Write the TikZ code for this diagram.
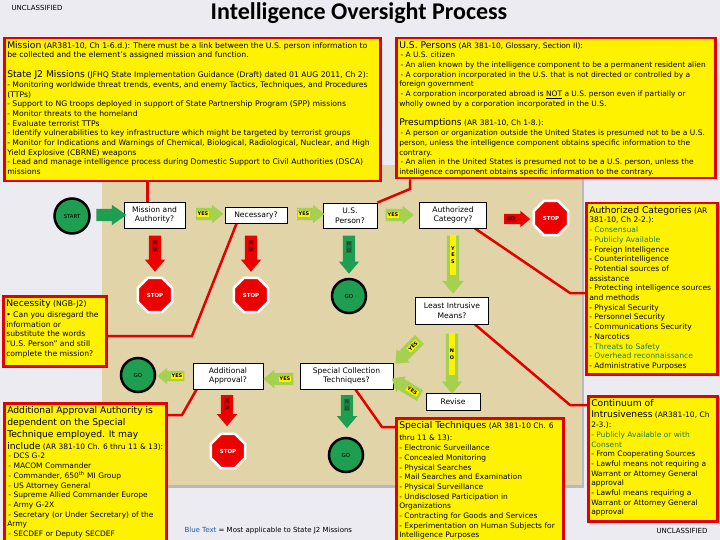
\documentclass[tikz,border=0pt]{standalone}
\usepackage{fontspec}
\setmainfont{DejaVu Sans}
\newfontfamily\titlefont{Carlito}
\usetikzlibrary{shapes.geometric,shapes.arrows,positioning,backgrounds}

\definecolor{bggray}{RGB}{235,235,241}
\definecolor{sand}{RGB}{224,212,168}
\definecolor{boxred}{RGB}{226,0,0}
\definecolor{stopred}{RGB}{236,0,0}
\definecolor{gogreen}{RGB}{30,158,80}
\definecolor{yesgreen}{RGB}{165,208,80}
\definecolor{bluetext}{RGB}{25,120,80}
\definecolor{bluenote}{RGB}{30,90,160}

\newcommand{\boxtext}[3]{\parbox[t][#1][t]{#2}{\raggedright\lineskiplimit=-4pt #3}}
\newcommand{\hd}[1]{{\fontsize{9.2}{9.7}\selectfont #1}}
\newcommand{\bt}[1]{\textcolor{bluetext}{#1}}

\tikzset{
  infobox/.style={draw=boxred, line width=2.5pt, fill=yellow, inner sep=3pt, anchor=north west,
    font=\fontsize{7.5}{9.7}\selectfont},
  askbox/.style={draw=black, line width=0.8pt, fill=white, align=center, inner sep=0pt,
    font=\fontsize{7.6}{9.6}\selectfont},
  stopsign/.style={regular polygon, regular polygon sides=8, fill=stopred, draw=white, line width=2.5pt,
    minimum size=37pt, inner sep=0pt, text=white, font=\bfseries\fontsize{5.5}{6}\selectfont},
  golight/.style={circle, fill=gogreen, draw=black, line width=2.5pt, minimum size=34pt, inner sep=0pt,
    font=\fontsize{5.5}{6}\selectfont},
  blockarrow/.style={single arrow, single arrow head extend=3pt, single arrow tip angle=80,
    inner xsep=0pt, inner ysep=6pt, minimum height=27pt},
  yesarrow/.style={blockarrow, fill=yesgreen},
  noarrow/.style={blockarrow, fill=stopred},
  goarrow/.style={blockarrow, fill=gogreen},
  yestag/.style={fill=yellow, inner sep=1pt, font=\bfseries\fontsize{5}{6}\selectfont},
  notag/.style={fill=stopred!85!black, text=red!30!black, inner sep=1pt, align=center,
    font=\bfseries\fontsize{5}{6.5}\selectfont},
  gotag/.style={fill=gogreen!80!black, text=black!80, inner sep=1pt, align=center,
    font=\bfseries\fontsize{5}{6.5}\selectfont},
  link/.style={draw=boxred, line width=2.5pt},
  classif/.style={font=\fontsize{7}{8}\selectfont}
}

\begin{document}
\begin{tikzpicture}[x=1pt,y=-1pt]
\useasboundingbox (0,0) rectangle (720,540);

% Les titres
\node[font=\titlefont\bfseries\fontsize{24}{26}\selectfont] (title) at (359,13) {Intelligence Oversight Process};
\node[classif, anchor=west] (classtop) at (8,8) {UNCLASSIFIED};
\node[classif, anchor=east] (classbot) at (711,531) {UNCLASSIFIED};
\node[classif, anchor=west] (note) at (181,531) {\textcolor{bluenote}{Blue Text} = Most applicable to State J2 Missions};

% Les cadres de texte
\node[infobox, font=\fontsize{7.7}{9.7}\selectfont] (mission) at (3,37) {\boxtext{137pt}{370pt}{%
\hd{Mission} (AR381-10, Ch 1-6.d.): There must be a link between the U.S. person information to\\
be collected and the element's assigned mission and function.\\[10pt]
\hd{State J2 Missions} (JFHQ State Implementation Guidance (Draft) dated 01 AUG 2011, Ch 2):\\
- Monitoring worldwide threat trends, events, and enemy Tactics, Techniques, and Procedures\\
(TTPs)\\
- Support to NG troops deployed in support of State Partnership Program (SPP) missions\\
- Monitor threats to the homeland\\
- Evaluate terrorist TTPs\\
- Identify vulnerabilities to key infrastructure which might be targeted by terrorist groups\\
- Monitor for Indications and Warnings of Chemical, Biological, Radiological, Nuclear, and High\\
Yield Explosive (CBRNE) weapons\\
- Lead and manage intelligence process during Domestic Support to Civil Authorities (DSCA)\\
missions}};
\node[infobox] (uspersons) at (395,37) {\boxtext{134pt}{313pt}{%
\hd{U.S. Persons} (AR 381-10, Glossary, Section II):\\
\,- A U.S. citizen\\
\,- An alien known by the intelligence component to be a permanent resident alien\\
\,- A corporation incorporated in the U.S. that is not directed or controlled by a\\
foreign government\\
\,- A corporation incorporated abroad is \underline{NOT} a U.S. person even if partially or\\
wholly owned by a corporation incorporated in the U.S.\\[10pt]
\hd{Presumptions} (AR 381-10, Ch 1-8.):\\
\,- A person or organization outside the United States is presumed not to be a U.S.\\
person, unless the intelligence component obtains specific information to the\\
contrary.\\
\,- An alien in the United States is presumed not to be a U.S. person, unless the\\
intelligence component obtains specific information to the contrary.}};
\node[infobox, font=\fontsize{7.6}{9.7}\selectfont] (authlist) at (585,202) {\boxtext{165pt}{125pt}{%
\hd{Authorized Categories} (AR\\
381-10, Ch 2-2.):\\
\bt{- Consensual}\\
\bt{- Publicly Available}\\
- Foreign Intelligence\\
- Counterintelligence\\
- Potential sources of\\
assistance\\
- Protecting intelligence sources\\
and methods\\
- Physical Security\\
- Personnel Security\\
- Communications Security\\
- Narcotics\\
\bt{- Threats to Safety}\\
\bt{- Overhead reconnaissance}\\
- Administrative Purposes}};
\node[infobox] (continuum) at (587,395) {\boxtext{119pt}{123pt}{%
\hd{Continuum of}\\[2pt]
\hd{Intrusiveness} (AR381-10, Ch\\
2-3.):\\
\bt{- Publicly Available or with}\\
\bt{Consent}\\
- From Cooperating Sources\\
- Lawful means not requiring a\\
Warrant or Attorney General\\
approval\\
- Lawful means requiring a\\
Warrant or Attorney General\\
approval}};
\node[infobox] (techniques) at (395,417) {\boxtext{122pt}{161pt}{%
\hd{Special Techniques} (AR 381-10 Ch. 6\\[3pt]
thru 11 \& 13):\\
- Electronic Surveillance\\
- Concealed Monitoring\\
- Physical Searches\\
- Mail Searches and Examination\\
- Physical Surveillance\\
- Undisclosed Participation in\\
Organizations\\
- Contracting for Goods and Services\\
- Experimentation on Human Subjects for\\
Intelligence Purposes}};
\node[infobox] (approval) at (3,402) {\boxtext{137pt}{156pt}{%
\hd{Additional Approval Authority is}\\[2.3pt]
\hd{dependent on the Special}\\[2.3pt]
\hd{Technique employed. It may}\\[2.3pt]
\hd{include} (AR 381-10 Ch. 6 thru 11 \& 13):\\
\,- DCS G-2\\
\,- MACOM Commander\\
\,- Commander, 650\textsuperscript{th} MI Group\\
\,- US Attorney General\\
\,- Supreme Allied Commander Europe\\
\,- Army G-2X\\
\,- Secretary (or Under Secretary) of the\\
Army\\
\,- SECDEF or Deputy SECDEF}};
\node[infobox, font=\fontsize{7.7}{9.9}\selectfont] (necessity) at (2,295) {\boxtext{64pt}{97pt}{%
\hd{Necessity} (NGB-J2)\\[1pt]
\textbullet{} Can you disregard the\\
information or\\
substitute the words\\
``U.S. Person'' and still\\
complete the mission?}};

% Les questions
\node[golight, minimum size=35pt] (start) at (72,216) {START};
\node[askbox, minimum width=61pt, minimum height=26pt] (askmission) at (154.5,215) {Mission and\\Authority?};
\node[askbox, minimum width=62pt, minimum height=16pt] (necessary) at (256,215) {Necessary?};
\node[askbox, minimum width=54pt, minimum height=25pt] (usperson) at (350,215.5) {U.S.\\Person?};
\node[askbox, minimum width=67pt, minimum height=26pt] (authcat) at (453,215) {Authorized\\Category?};
\node[askbox, minimum width=73pt, minimum height=27pt] (least) at (452,310.5) {Least Intrusive\\Means?};
\node[askbox, minimum width=54pt, minimum height=17pt] (revise) at (453,401.5) {Revise};
\node[askbox, minimum width=93pt, minimum height=26pt] (special) at (346.5,376) {Special Collection\\Techniques?};
\node[askbox, minimum width=70pt, minimum height=26pt] (addl) at (228,376) {Additional\\Approval?};

% Les feux
\node[stopsign] (stop0) at (551,218) {STOP};
\node[stopsign] (stop1) at (155,295) {STOP};
\node[stopsign] (stop2) at (251,295) {STOP};
\node[stopsign] (stop3) at (228,451) {STOP};
\node[golight] (go1) at (349,296) {GO};
\node[golight] (go2) at (138,375) {GO};
\node[golight] (go3) at (346,455) {GO};

% Les flèches
\node[goarrow, single arrow head extend=4pt, minimum height=30pt, single arrow tip angle=70] (a0) at (107,215) {};
\node[yesarrow] (y1) at (206,214) {};
\node[yestag] at ([xshift=-3pt]y1.center) {YES};
\node[yesarrow] (y2) at (307,214) {};
\node[yestag] at ([xshift=-3pt]y2.center) {YES};
\node[yesarrow, minimum height=28pt] (y3) at (396,215) {};
\node[yestag] at ([xshift=-3pt]y3.center) {YES};
\node[noarrow, inner ysep=5pt, minimum height=26pt] (n0) at (514,219) {};
\node[notag] at ([xshift=-3pt]n0.center) {NO};
\node[noarrow, rotate=270, single arrow head extend=4pt, minimum height=36pt] (n1) at (155,250) {};
\node[notag] at ([yshift=4pt]n1.center) {N\\O};
\node[noarrow, rotate=270, single arrow head extend=4pt, minimum height=36pt] (n2) at (251,250) {};
\node[notag] at ([yshift=4pt]n2.center) {N\\O};
\node[goarrow, rotate=270, single arrow head extend=4pt, minimum height=38pt] (n3) at (349,251) {};
\node[gotag] at ([yshift=4pt]n3.center) {N\\O};
\node[yesarrow, rotate=270, single arrow head extend=4.5pt, minimum height=58pt] (y4) at (453,261) {};
\node[yestag, align=center, minimum height=40pt, font=\bfseries\fontsize{5}{6.5}\selectfont] at ([yshift=6pt]y4.center) {Y\\E\\S};
\node[yesarrow, rotate=270, single arrow head extend=4pt, minimum height=60pt] (n4) at (452,360) {};
\node[yestag, align=center, minimum height=42pt, font=\bfseries\fontsize{5}{6.5}\selectfont] at ([yshift=6pt]n4.center) {N\\O};
\node[yesarrow, rotate=225, minimum height=34pt] (y5) at (410,349) {};
\node[yestag, rotate=45] at ([shift={(3,-3)}]y5.center) {YES};
\node[yesarrow, rotate=149, minimum height=33pt] (y6) at (409,389) {};
\node[yestag, rotate=-31] at ([shift={(3.4,2)}]y6.center) {YES};
\node[yesarrow, rotate=180, minimum height=30pt] (y7) at (282,379) {};
\node[yestag] at ([xshift=3pt]y7.center) {YES};
\node[yesarrow, rotate=180, inner ysep=5pt] (y8) at (174,376) {};
\node[yestag] at ([xshift=3pt]y8.center) {YES};
\node[noarrow, rotate=270, single arrow head extend=4pt, minimum height=31pt] (n5) at (227,407) {};
\node[notag] at ([yshift=3pt]n5.center) {N\\O};
\node[goarrow, rotate=270, single arrow head extend=4pt, minimum height=33pt] (n6) at (347,408) {};
\node[gotag] at ([yshift=3pt]n6.center) {N\\O};

% Le fond et les liens
\begin{pgfonlayer}{background}
  \fill[bggray] (0,0) rectangle (720,540);
  \fill[gray!55] (104,167) rectangle (584,488);
  \fill[sand] (102,165) rectangle (582,485);
  \coordinate (nbend) at (192,336);
  \coordinate (ubend) at (410,189);
  \coordinate (abend) at (570,293);
  \coordinate (cbend) at (570,405);
  \coordinate (sbend) at (382,427);
  \coordinate (dbend) at (182,415);
  \draw[link] ([xshift=-7pt]askmission.north) -- ([xshift=-7pt]askmission.north |- mission.south);
  \draw[link] ([xshift=12pt]necessary.south west) -- (nbend) -- (nbend -| necessity.east);
  \draw[link] (usperson.north east) -- (ubend) -- (ubend |- uspersons.south);
  \draw[link] ([xshift=-12pt]authcat.south east) -- (abend) -- (abend -| authlist.west);
  \draw[link] ([xshift=-14pt]least.south east) -- (cbend) -- (cbend -| continuum.west);
  \draw[link] ([xshift=-38pt]special.south east) -- (sbend) -- (sbend -| techniques.west);
  \draw[link] ([xshift=4pt]addl.south west) -- (dbend) -- (dbend -| approval.east);
\end{pgfonlayer}
\end{tikzpicture}
\end{document}
